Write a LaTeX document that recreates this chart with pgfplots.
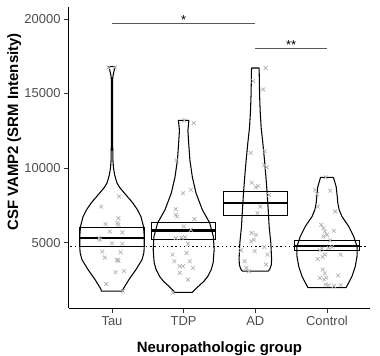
\documentclass[border=0pt]{standalone}
\usepackage{fontspec}
\setmainfont{Liberation Sans}
\usepackage{pgfplots}
\pgfplotsset{compat=1.18}
\usepackage{pgfplotstable}
\definecolor{ptgray}{HTML}{B5B5B5}
\definecolor{tickgray}{HTML}{4D4D4D}
\definecolor{sigline}{HTML}{5A5A5A}

\pgfplotstableread{
x y
0.95 16750
1.04 16750
1.10 8100
0.85 7420
1.09 6640
0.91 6250
1.075 6320
1.09 6200
0.97 5750
1.145 5690
0.82 5310
0.83 5200
1.00 4950
1.145 4930
0.865 4400
0.90 4000
1.12 4350
1.07 3820
1.09 3780
1.08 3860
1.05 3020
1.17 3100
0.92 2230
1.155 1750
}\taupts

\pgfplotstableread{
x y
2.01 13200
2.14 13020
1.90 10530
1.99 8310
2.10 8550
1.89 7250
1.89 6870
1.91 6750
2.15 6580
2.00 6090
2.10 5870
1.97 5330
1.89 5300
2.02 5360
2.06 4930
1.845 4200
1.87 3750
2.04 4310
2.085 3750
1.945 3420
1.99 3420
2.13 3310
1.945 2980
2.06 2530
1.85 1650
}\tdppts

\pgfplotstableread{
x y
3.145 16710
2.97 15820
3.11 15270
2.935 11020
3.13 11150
3.125 10200
3.16 10050
2.95 9020
3.04 8800
3.005 8710
3.19 8200
3.07 7420
3.03 6980
2.95 5650
2.98 5200
2.94 5090
3.01 5530
2.80 4490
2.99 4420
3.125 4710
3.17 4200
2.85 3750
2.875 3310
2.91 3090
3.15 3530
}\adpts

\pgfplotstableread{
x y
3.98 9380
3.835 8530
3.86 8270
4.045 8490
3.87 7420
4.115 7090
3.92 6200
3.95 5980
3.97 5750
4.095 5800
4.00 5530
3.95 5420
4.045 5150
3.93 4600
3.90 4500
4.02 4650
4.07 4700
3.87 3910
3.94 4040
3.97 4200
4.19 4200
3.94 3200
3.97 2930
3.90 2640
3.96 2530
3.99 2640
4.155 2800
4.02 2150
4.095 2100
4.19 2150
3.98 2200
}\ctlpts

\begin{document}
\begin{tikzpicture}
\useasboundingbox (-69bp,-48bp) rectangle (311bp,308bp);
\begin{axis}[
  at={(0,0)}, anchor=south west,
  width=301bp, height=301bp, scale only axis,
  xmin=0.4, xmax=4.6, ymin=620, ymax=20800,
  axis x line*=bottom, axis y line*=left,
  axis line style={line width=1bp, black},
  xtick={1,2,3,4}, xticklabels={Tau,TDP,AD,Control},
  ytick={5000,10000,15000,20000}, yticklabels={5000,10000,15000,20000},
  tick align=outside, major tick length=5bp,
  tick style={line width=0.8bp, color=black!80},
  ticklabel style={font=\fontsize{13}{13}\selectfont, text=tickgray},
  xlabel={Neuropathologic group}, ylabel={CSF VAMP2 (SRM Intensity)},
  label style={font=\bfseries\fontsize{15}{15}\selectfont},
  xlabel style={at={(axis description cs:0.5,-0.1485)}, anchor=base},
  ylabel style={at={(axis description cs:-0.1694,0.585)}, anchor=base},
  clip=false,
]
% violins
\addplot[black, line width=1.05bp, mark=none, line join=round] coordinates {
(1.046,16800) (1.028,16500) (1.011,16100) (1.007,15600) (1.007,14000) (1.008,12000) (1.013,10500) (1.021,10000) (1.039,9500) (1.070,9000) (1.107,8700) (1.195,8200) (1.289,7670) (1.356,7200) (1.405,6730) (1.44,6070) (1.45,5400) (1.45,4800) (1.445,4330) (1.42,3870) (1.335,3200) (1.237,2530) (1.153,1870) (1.149,1750)
(0.851,1750) (0.847,1870) (0.763,2530) (0.665,3200) (0.58,3870) (0.555,4330) (0.55,4800) (0.55,5400) (0.56,6070) (0.595,6730) (0.644,7200) (0.711,7670) (0.805,8200) (0.893,8700) (0.930,9000) (0.961,9500) (0.979,10000) (0.987,10500) (0.992,12000) (0.993,14000) (0.993,15600) (0.989,16100) (0.972,16500) (0.954,16800) (1.046,16800)};
\addplot[black, line width=1.05bp, mark=none, line join=round] coordinates {
(2.073,13200) (2.059,12530) (2.070,11670) (2.087,10530) (2.121,9400) (2.172,8330) (2.261,7200) (2.363,6330) (2.415,5400) (2.425,4530) (2.412,3670) (2.385,3200) (2.335,2730) (2.28,2400) (2.205,2070) (2.121,1670)
(1.879,1670) (1.795,2070) (1.72,2400) (1.665,2730) (1.615,3200) (1.588,3670) (1.575,4530) (1.585,5400) (1.637,6330) (1.739,7200) (1.828,8330) (1.879,9400) (1.913,10530) (1.930,11670) (1.941,12530) (1.927,13200) (2.073,13200)};
\addplot[black, line width=1.05bp, mark=none, line join=round] coordinates {
(3.053,16710) (3.059,15000) (3.067,13870) (3.081,12730) (3.105,11670) (3.128,10530) (3.148,9400) (3.165,8330) (3.18,7200) (3.193,6070) (3.216,5000) (3.227,3870) (3.222,3500) (3.205,3250) (3.181,3090)
(2.819,3090) (2.795,3250) (2.778,3500) (2.773,3870) (2.784,5000) (2.807,6070) (2.82,7200) (2.835,8330) (2.852,9400) (2.872,10530) (2.895,11670) (2.919,12730) (2.933,13870) (2.941,15000) (2.947,16710) (3.053,16710)};
\addplot[black, line width=1.05bp, mark=none, line join=round] coordinates {
(4.09,9380) (4.128,8750) (4.145,8000) (4.151,7650) (4.17,7200) (4.209,6750) (4.303,6090) (4.373,5420) (4.419,4750) (4.419,4090) (4.395,3420) (4.349,2750) (4.303,2310) (4.265,1980)
(3.735,1980) (3.697,2310) (3.651,2750) (3.605,3420) (3.581,4090) (3.581,4750) (3.627,5420) (3.697,6090) (3.791,6750) (3.83,7200) (3.849,7650) (3.855,8000) (3.872,8750) (3.91,9380) (4.09,9380)};
% jittered points
\addplot[only marks, mark=x, mark size=2.7bp, ptgray, mark options={line width=0.75bp}] table[x=x,y=y] {\taupts};
\addplot[only marks, mark=x, mark size=2.7bp, ptgray, mark options={line width=0.75bp}] table[x=x,y=y] {\tdppts};
\addplot[only marks, mark=x, mark size=2.7bp, ptgray, mark options={line width=0.75bp}] table[x=x,y=y] {\adpts};
\addplot[only marks, mark=x, mark size=2.7bp, ptgray, mark options={line width=0.75bp}] table[x=x,y=y] {\ctlpts};
% crossbars (mean +/- SE)
\addplot[black, line width=0.85bp, mark=none] coordinates {(0.55,4720) (1.45,4720) (1.45,6010) (0.55,6010) (0.55,4720)};
\addplot[black, line width=2.4bp, mark=none] coordinates {(0.55,5320) (1.45,5320)};
\addplot[black, line width=0.85bp, mark=none] coordinates {(1.55,5200) (2.45,5200) (2.45,6380) (1.55,6380) (1.55,5200)};
\addplot[black, line width=2.4bp, mark=none] coordinates {(1.55,5820) (2.45,5820)};
\addplot[black, line width=0.85bp, mark=none] coordinates {(2.55,6840) (3.45,6840) (3.45,8420) (2.55,8420) (2.55,6840)};
\addplot[black, line width=2.4bp, mark=none] coordinates {(2.55,7640) (3.45,7640)};
\addplot[black, line width=0.85bp, mark=none] coordinates {(3.55,4470) (4.45,4470) (4.45,5160) (3.55,5160) (3.55,4470)};
\addplot[black, line width=2.4bp, mark=none] coordinates {(3.55,4760) (4.45,4760)};
% reference line
\addplot[black, line width=1.4bp, dash pattern=on 1.4bp off 2.8bp, mark=none] coordinates {(0.42,4750) (4.58,4750)};
% significance
\addplot[sigline, line width=0.9bp, mark=none] coordinates {(1,19670) (3,19670)};
\addplot[sigline, line width=0.9bp, mark=none] coordinates {(3,18040) (4,18040)};
\node[font=\fontsize{13}{13}\selectfont, anchor=base, inner sep=0pt] at (axis cs:2,19670) [yshift=-1bp] {*};
\node[font=\fontsize{13}{13}\selectfont, anchor=base, inner sep=0pt] at (axis cs:3.5,18040) [yshift=-1bp] {**};
\end{axis}
\end{tikzpicture}
\end{document}
